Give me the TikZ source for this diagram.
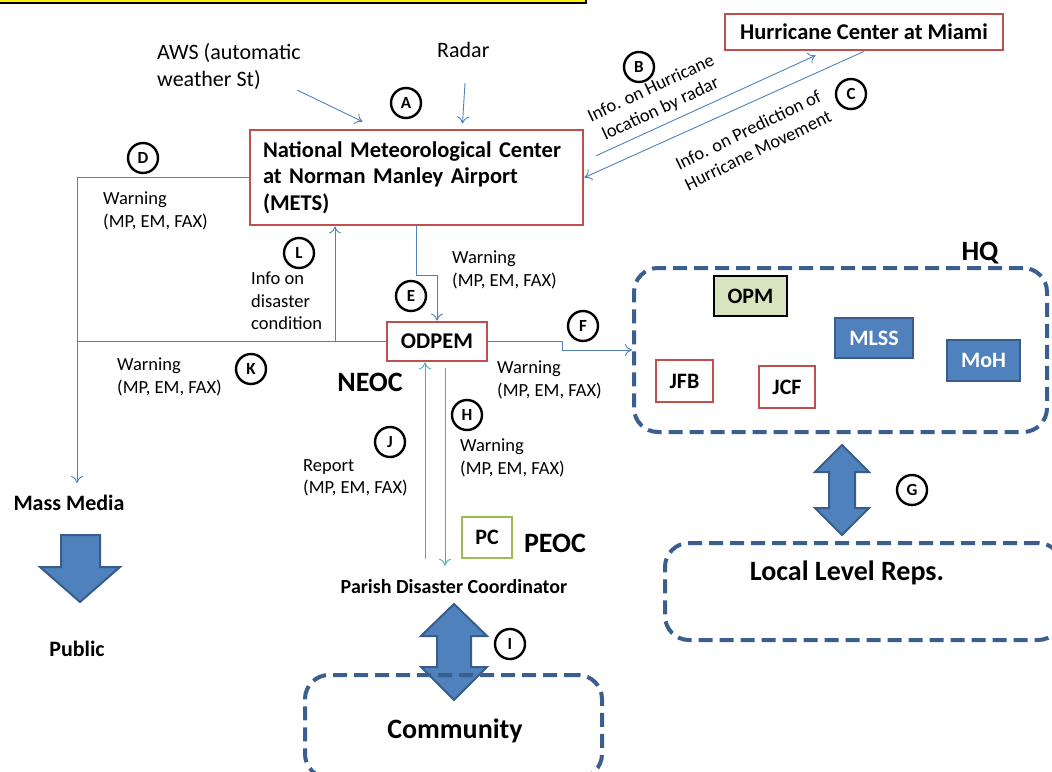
\documentclass[tikz,border=0pt]{standalone}
\usepackage{fontspec}
\setmainfont{Carlito}
\usetikzlibrary{arrows.meta}

\definecolor{linkblue}{HTML}{4F81BD}
\definecolor{aquablue}{HTML}{4BACC6}
\definecolor{boxred}{HTML}{C0504D}
\definecolor{dashblue}{HTML}{3A5F8F}
\definecolor{blockedge}{HTML}{385D8A}
\definecolor{opmgreen}{HTML}{D7E4BD}
\definecolor{pcgreen}{HTML}{9BBB59}

\begin{document}
\begin{tikzpicture}[
    x=1pt, y=-1pt,
    arr/.style={line width=0.9pt, linkblue, -{To[length=7pt,width=12pt]}},
    arrpe/.style={line width=0.9pt, aquablue, -{To[length=7pt,width=12pt]}},
    lab/.style={font=\fontsize{18.5}{22.5}\selectfont, align=left, inner sep=0pt, anchor=west},
    tag/.style={circle, draw=black, line width=2.4pt, minimum size=30pt, inner sep=0pt,
      font=\bfseries\fontsize{17}{17}\selectfont},
    redbox/.style={rectangle, draw=boxred, line width=2.8pt, fill=white, inner sep=0pt,
      font=\bfseries\fontsize{22.5}{26.5}\selectfont},
    bluebox/.style={rectangle, draw=blockedge, line width=2.5pt, fill=linkblue, text=white,
      inner sep=0pt, font=\bfseries\fontsize{22}{26}\selectfont},
    grpbox/.style={rectangle, draw=dashblue, line width=4pt, dash pattern=on 14pt off 7pt,
      rounded corners=24pt, inner sep=0pt},
    bighead/.style={font=\bfseries\fontsize{28}{32}\selectfont, inner sep=0pt},
    blk/.style={fill=linkblue, draw=blockedge, line width=2pt},
  ]
  \useasboundingbox (0,0) rectangle (1052,771);

  % title strip cut off at the top
  \draw[fill=yellow, draw=black, line width=1.2pt] (-10,-10) rectangle (586,3);

  % dashed groups and block arrows
  \node[grpbox, minimum width=413pt, minimum height=164pt] (hq) at (840.5,350) {};
  \node[grpbox, minimum width=397pt, minimum height=97pt] (local) at (863.5,591.5) {};
  \draw[blk] (454,604) -- (487,636) -- (471,636) -- (471,667) -- (487,667) -- (454,700)
    -- (421,667) -- (437,667) -- (437,636) -- (421,636) -- cycle;
  \node[grpbox, minimum width=297pt, minimum height=103pt] (comm) at (453.5,726.5) {};
  \draw[blk] (842,445) -- (869,472) -- (855,472) -- (855,508) -- (869,508) -- (842,535)
    -- (815,508) -- (829,508) -- (829,472) -- (815,472) -- cycle;
  \draw[blk] (61,535) -- (100,535) -- (100,567) -- (120,567) -- (80,602) -- (40,567)
    -- (61,567) -- cycle;

  % boxes
  \node[redbox, minimum width=333pt, minimum height=95pt, text width=307pt, align=left]
    (mets) at (416.5,177.5) {National Meteorological Center\\at Norman Manley Airport\\(METS)};
  \node[redbox, minimum width=278pt, minimum height=36pt] (miami) at (864,32)
    {Hurricane Center at Miami};
  \node[redbox, minimum width=100pt, minimum height=39pt] (odpem) at (437,341.5) {ODPEM};
  \node[redbox, line width=2.5pt, minimum width=57pt, minimum height=42pt,
    font=\bfseries\fontsize{22}{26}\selectfont] (jfb) at (684.5,381) {JFB};
  \node[redbox, line width=2.5pt, minimum width=56pt, minimum height=42pt,
    font=\bfseries\fontsize{22}{26}\selectfont] (jcf) at (787,387) {JCF};
  \node[rectangle, draw=black, line width=1.2pt, fill=opmgreen, minimum width=73pt,
    minimum height=40pt, inner sep=0pt, font=\bfseries\fontsize{22}{26}\selectfont]
    (opm) at (750.5,296) {OPM};
  \node[bluebox, minimum width=78pt, minimum height=40pt] (mlss) at (874,338) {MLSS};
  \node[bluebox, minimum width=73pt, minimum height=41pt] (moh) at (983.5,360.5) {MoH};
  \node[rectangle, draw=pcgreen, line width=2.8pt, fill=white, minimum width=50pt,
    minimum height=41pt, inner sep=0pt, font=\bfseries\fontsize{22}{26}\selectfont]
    (pc) at (487,537.5) {PC};

  % plain texts
  \node[bighead] (hqlab) at (980,253) {HQ};
  \node[bighead] (locallab) at (847,573) {Local Level Reps.};
  \node[bighead] (commlab) at (455,731) {Community};
  \node[bighead] (neoc) at (370,382) {NEOC};
  \node[bighead] (peoc) at (555,543) {PEOC};
  \node[inner sep=0pt, font=\bfseries\fontsize{22}{26}\selectfont] (media) at (69,503) {Mass Media};
  \node[inner sep=0pt, font=\bfseries\fontsize{22}{26}\selectfont] (public) at (77,649) {Public};
  \node[inner sep=0pt, font=\bfseries\fontsize{20}{24}\selectfont] (parish) at (454,587)
    {Parish Disaster Coordinator};
  \node[lab, font=\fontsize{22}{27}\selectfont] (aws) at (157,66) {AWS (automatic\\weather St)};
  \node[lab, font=\fontsize{22}{27}\selectfont] (radar) at (437,50) {Radar};

  \node[lab] (warnd) at (103,211) {Warning\\(MP, EM, FAX)};
  \node[lab] (infol) at (251,301) {Info on\\disaster\\condition};
  \node[lab] (warne) at (452,270) {Warning\\(MP, EM, FAX)};
  \node[lab] (warnk) at (117,377) {Warning\\(MP, EM, FAX)};
  \node[lab] (warnf) at (497,380) {Warning\\(MP, EM, FAX)};
  \node[lab] (warnh) at (460,458) {Warning\\(MP, EM, FAX)};
  \node[lab] (reportj) at (303,478) {Report\\(MP, EM, FAX)};
  \node[lab, anchor=center, align=center, rotate=25] (infob) at (656,99)
    {Info. on Hurricane\\location by radar};
  \node[lab, anchor=center, align=center, rotate=26] (infoc) at (753,140)
    {Info. on Prediction of\\Hurricane Movement};

  % connectors
  \coordinate (awsfoot) at (297,90);
  \coordinate (radarfoot) at (465,83);
  \coordinate (spine) at (77,341.5);
  \coordinate (lfoot) at (335,341.5);
  \coordinate (jfoot) at (425,559);
  \draw[arr] (awsfoot) -- ([xshift=-54pt,yshift=7pt]mets.north);
  \draw[arr] (radarfoot) -- ([xshift=46pt,yshift=5pt]mets.north);
  \draw[arr] ([xshift=12pt,yshift=-27pt]mets.north east) -- ([xshift=92pt,yshift=-4pt]miami.south west);
  \draw[arr] (miami.south) -- (mets.east);
  \draw[arr] (mets.west) -| ([xshift=8pt,yshift=12pt]media.north);
  \draw[line width=0.9pt, linkblue] (odpem.west) -- (spine);
  \draw[arr] (lfoot) -- (lfoot |- mets.south);
  \draw[arr] (mets.south) -- ++(0,49) -| (odpem.north);
  \draw[arr] (odpem.east) -- ++(74,0) |- (hq.west);
  \draw[arrpe] (jfoot) -- (jfoot |- odpem.south);
  \draw[arrpe] ([xshift=8pt,yshift=-6pt]odpem.south) -- ([xshift=-9pt,yshift=14pt]parish.north);

  % letter tags
  \node[tag] (ta) at (406,103) {A};
  \node[tag] (tb) at (639,67) {B};
  \node[tag] (tc) at (851,94) {C};
  \node[tag] (td) at (143,158) {D};
  \node[tag] (te) at (411,296) {E};
  \node[tag] (tf) at (583,326) {F};
  \node[tag] (tg) at (912,490) {G};
  \node[tag] (th) at (467,415) {H};
  \node[tag] (ti) at (510,644) {I};
  \node[tag] (tj) at (390,442) {J};
  \node[tag] (tk) at (251,369) {K};
  \node[tag] (tl) at (299,253) {L};
\end{tikzpicture}
\end{document}
